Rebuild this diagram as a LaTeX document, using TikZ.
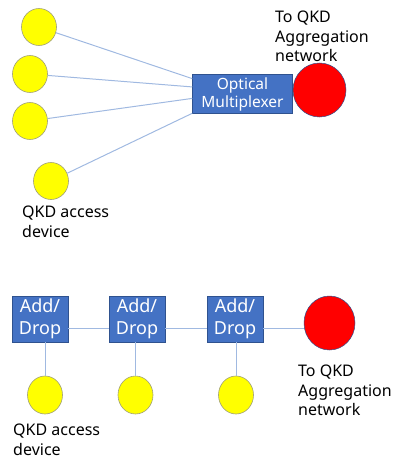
\documentclass[tikz,border=0pt]{standalone}
\usepackage{fontspec}
\setmainfont{Noto Sans}
\usetikzlibrary{shapes.geometric}
\definecolor{devyellow}{RGB}{255,255,0}
\definecolor{devedge}{RGB}{160,160,120}
\definecolor{boxblue}{RGB}{68,114,196}
\definecolor{boxedge}{RGB}{47,82,143}
\definecolor{linkblue}{RGB}{160,185,225}
\definecolor{hubred}{RGB}{255,0,0}
\tikzset{
  device/.style={ellipse, fill=devyellow, draw=devedge, line width=0.6pt, minimum width=35pt, minimum height=37pt, inner sep=0pt},
  hub/.style={ellipse, fill=hubred, draw=boxedge, line width=0.5pt, minimum width=53pt, minimum height=54pt, inner sep=0pt},
  muxbox/.style={rectangle, fill=boxblue, draw=boxedge, line width=0.5pt, text=white, align=center, inner sep=0pt, minimum width=100pt, minimum height=39pt, font=\fontsize{15.5}{18}\selectfont},
  adbox/.style={rectangle, fill=boxblue, draw=boxedge, line width=0.5pt, text=white, align=center, inner sep=0pt, minimum width=56pt, minimum height=46pt, font=\fontsize{18}{21.5}\selectfont},
  link/.style={draw=linkblue, line width=1pt},
  lbl/.style={anchor=north west, align=left, inner sep=0pt, font=\fontsize{16}{19.5}\selectfont}
}
\begin{document}
\begin{tikzpicture}[x=1pt, y=-1pt]
\useasboundingbox (0,0) rectangle (393,460);
% top part
\node[muxbox] (mux) at (242.5,94) {Optical\\Multiplexer};
\node[hub] (agg1) at (319.5,90) {};
\node[device] (d1) at (39,27) {};
\node[device] (d2) at (30,74) {};
\node[device] (d3) at (30,121) {};
\node[device] (d4) at (51,181) {};
\draw[link] (d1) -- (mux.163);
\draw[link] (d2) -- (mux.172);
\draw[link] (d3) -- (mux.185);
\draw[link] (d4) -- (mux.201);
\node[lbl] (t1) at (275,11) {To QKD\\Aggregation\\network};
\node[lbl] (t2) at (22,206) {QKD access\\device};
% bottom part
\node[adbox] (a1) at (40,319) {Add/\\Drop};
\node[adbox] (a2) at (137,319) {Add/\\Drop};
\node[adbox] (a3) at (235,319) {Add/\\Drop};
\node[hub, minimum width=51pt, minimum height=54pt] (agg2) at (329.5,323) {};
\node[device, minimum height=38pt] (e1) at (45,395) {};
\node[device, minimum height=38pt] (e2) at (135.5,395) {};
\node[device, minimum height=38pt] (e3) at (236,395) {};
\draw[link] (a1.-18) -- (a1.-18 -| a2.west);
\draw[link] (a2.-18) -- (a2.-18 -| a3.west);
\draw[link] (a3.-18) -- (a3.-18 -| agg2.west);
\draw[link] (a1.south -| e1.north) -- (e1.north);
\draw[link] (a2.south -| e2.north) -- (e2.north);
\draw[link] (a3.south -| e3.north) -- (e3.north);
\node[lbl] (t3) at (13,424) {QKD access\\device};
\node[lbl] (t4) at (298,365) {To QKD\\Aggregation\\network};
\end{tikzpicture}
\end{document}
